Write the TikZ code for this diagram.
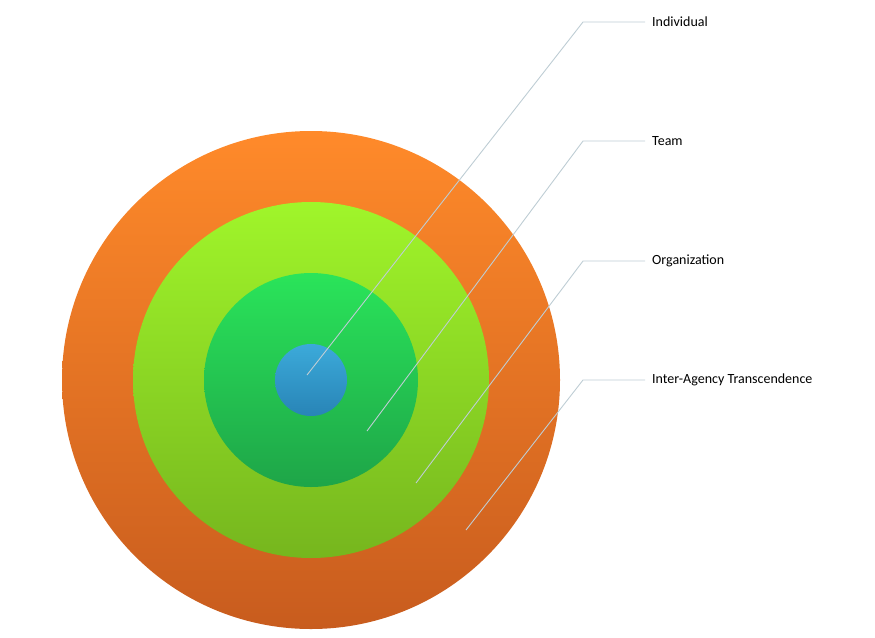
\documentclass[tikz,border=0pt]{standalone}
\usepackage{fontspec}
\setmainfont{Carlito}
\definecolor{lead}{RGB}{190,205,212}
\begin{document}
\begin{tikzpicture}[x=1pt,y=-1pt,
  lbl/.style={anchor=west,inner sep=0pt,font=\fontsize{14}{16}\selectfont},
  leader/.style={draw=lead,line width=0.9pt}]
\useasboundingbox (0,0) rectangle (875,637);
\coordinate (c) at (311,380);
\shade[top color={rgb,255:red,255;green,138;blue,42},bottom color={rgb,255:red,200;green,92;blue,30}] (c) circle (249);
\shade[top color={rgb,255:red,160;green,245;blue,42},bottom color={rgb,255:red,118;green,182;blue,30}] (c) circle (178);
\shade[top color={rgb,255:red,42;green,228;blue,90},bottom color={rgb,255:red,30;green,165;blue,72}] (c) circle (107);
\shade[top color={rgb,255:red,60;green,170;blue,218},bottom color={rgb,255:red,40;green,132;blue,182}] (c) circle (36);
\node[lbl] (l1) at (652,22) {Individual};
\node[lbl] (l2) at (652,141) {Team};
\node[lbl] (l3) at (652,261) {Organization};
\node[lbl] (l4) at (652,380) {Inter-Agency Transcendence};
\coordinate (p1) at (307,375); \coordinate (e1) at (583,22);
\coordinate (p2) at (367,431); \coordinate (e2) at (583,141);
\coordinate (p3) at (416,483); \coordinate (e3) at (583,261);
\coordinate (p4) at (466,530); \coordinate (e4) at (583,380);
\draw[leader] (p1) -- (e1) -- ([xshift=-7pt]l1.west);
\draw[leader] (p2) -- (e2) -- ([xshift=-7pt]l2.west);
\draw[leader] (p3) -- (e3) -- ([xshift=-7pt]l3.west);
\draw[leader] (p4) -- (e4) -- ([xshift=-7pt]l4.west);
\end{tikzpicture}
\end{document}
